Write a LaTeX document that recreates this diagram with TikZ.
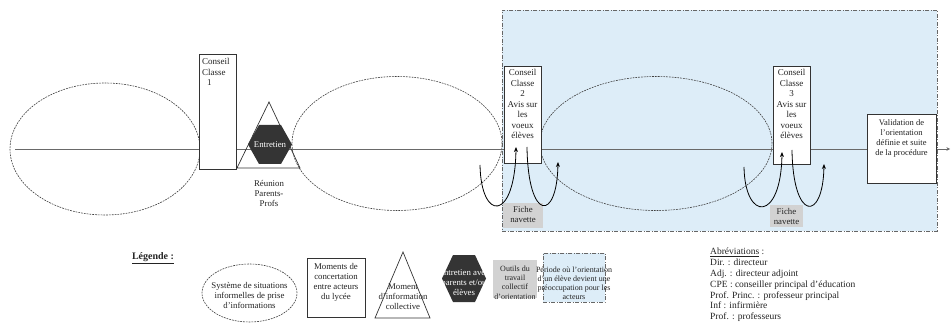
\documentclass[tikz,border=0pt]{standalone}
\usepackage{fontspec}
\setmainfont{Liberation Serif}
\usetikzlibrary{arrows.meta,shapes.geometric}
\definecolor{zoneblue}{RGB}{221,237,248}
\definecolor{darkhex}{RGB}{52,52,52}
\definecolor{fichegray}{RGB}{210,210,210}
\definecolor{linegray}{RGB}{105,105,105}
\definecolor{inkc}{RGB}{35,35,35}
\tikzset{
  txt/.style={font=\fontsize{8.8}{10}\selectfont, text=inkc, align=center, inner sep=0pt},
  boxtxt/.style={font=\fontsize{9}{10.5}\selectfont, text=inkc, align=center, inner sep=0pt},
  cbox/.style={draw=black!80, line width=0.8pt, fill=white, inner sep=0pt},
  ell/.style={draw=black!75, dash pattern=on 1.8pt off 1pt, line width=0.6pt},
  zone/.style={fill=zoneblue, draw=black!60, dash pattern=on 4pt off 1.5pt on 1pt off 1.5pt, line width=0.6pt, inner sep=0pt},
  fiche/.style={fill=fichegray, inner sep=0pt},
  uarrow/.style={draw=black, line width=0.8pt, -{Stealth[length=5pt,width=4pt]}},
  hexa/.style={fill=darkhex, draw=darkhex},
  tri/.style={draw=black!80, line width=0.7pt},
  timeline/.style={draw=linegray, line width=0.9pt, -{Stealth[length=3.5pt,width=3.5pt]}},
}
\begin{document}
\begin{tikzpicture}[x=1pt,y=-1pt]
\useasboundingbox (0,0) rectangle (951,326);

% blue zone
\node[zone, minimum width=435pt, minimum height=221pt] (zone) at (719.5,120.5) {};

% informal ellipses
\draw[ell] (105,149) ellipse [x radius=95pt, y radius=66pt];
\draw[ell] (397,143.5) ellipse [x radius=105pt, y radius=67pt];
\draw[ell] (656,143.5) ellipse [x radius=116pt, y radius=67pt];

% timeline
\coordinate (tstart) at (15,149);
\coordinate (tend) at (950,149);
\draw[timeline] (tstart) -- (tend);

% Conseil 1
\node[cbox, minimum width=37pt, minimum height=115pt] (c1) at (217.5,111.5) {};
\node[boxtxt, align=left, anchor=north west] (c1t) at (202,58.5) {Conseil\\Classe\\\hspace*{5pt}1};

% triangle + hexagon
\coordinate (t1a) at (237,168);
\coordinate (t1b) at (269,102);
\coordinate (t1c) at (300,168);
\draw[tri] (t1a) -- (t1b) -- (t1c) -- cycle;
\fill[darkhex] (248,144.5) -- (259,125) -- (281,125) -- (292,144.5) -- (281,164) -- (259,164) -- cycle;
\node[txt, text=white] (ent) at (270,145) {Entretien};
\node[txt] (reu) at (269,193) {Réunion\\Parents-\\Profs};

% Conseil 2
\node[cbox, minimum width=37pt, minimum height=97pt] (c2) at (522.5,114.5) {};
\node[boxtxt, anchor=north] (c2t) at (522.5,69.5) {Conseil\\Classe\\2\\Avis sur\\les\\voeux\\élèves};

% Conseil 3
\node[cbox, minimum width=37pt, minimum height=98pt] (c3) at (791.5,115) {};
\node[boxtxt, anchor=north] (c3t) at (791.5,69.5) {Conseil\\Classe\\3\\Avis sur\\les\\voeux\\élèves};

% Validation
\node[cbox, minimum width=69pt, minimum height=69pt] (val) at (901.5,148.5) {};
\node[txt, font=\fontsize{8.5}{10}\selectfont, anchor=north] (valt) at (901.5,119) {Validation de\\l’orientation\\définie et suite\\de la procédure};

% fiches navette
\node[fiche, minimum width=40pt, minimum height=25pt] (f2) at (523,215.5) {};
\node[txt] (f2t) at (523,214) {Fiche\\navette};
\node[fiche, minimum width=33pt, minimum height=22pt] (f3) at (786.5,216) {};
\node[txt] (f3t) at (786.5,216) {Fiche\\navette};

% U arrows
\coordinate (u1a) at (480,165);  \coordinate (u1b) at (516,147);
\coordinate (u2a) at (527,147);  \coordinate (u2b) at (558,162);
\coordinate (u3a) at (744,167);  \coordinate (u3b) at (782,152);
\coordinate (u4a) at (792,150);  \coordinate (u4b) at (824,164);
\draw[uarrow] (u1a) .. controls (481,222) and (515,222) .. (u1b);
\draw[uarrow] (u2a) .. controls (528,222) and (557,222) .. (u2b);
\draw[uarrow] (u3a) .. controls (745,222) and (781,222) .. (u3b);
\draw[uarrow] (u4a) .. controls (793,222) and (823,222) .. (u4b);

% legend
\node[font=\fontsize{10}{12}\selectfont\bfseries, text=inkc, inner sep=0pt] (leg) at (153,258) {\underline{Légende :}};

\node[ell, ellipse, minimum width=95pt, minimum height=58pt, inner sep=0pt] (le) at (249.5,293) {};
\node[txt] (let) at (249.5,295) {Système de situations\\informelles de prise\\d’informations};

\node[cbox, minimum width=58pt, minimum height=59pt] (lb) at (336,287.5) {};
\node[txt, anchor=north] (lbt) at (336,263.5) {Moments de\\concertation\\entre acteurs\\du lycée};

\coordinate (lta) at (375,318);
\coordinate (ltb) at (403,252);
\coordinate (ltc) at (430,318);
\draw[tri] (lta) -- (ltb) -- (ltc) -- cycle;
\node[txt] (ltt) at (403,297) {Moment\\d’information\\collective};

\fill[darkhex] (442,278.5) -- (453,255) -- (475,255) -- (486,278.5) -- (475,302) -- (453,302) -- cycle;
\node[txt, text=white] (lht) at (464,283) {Entretien avec\\parents et/ou\\élèves};

\node[fiche, minimum width=44pt, minimum height=38pt] (lg) at (515,279) {};
\node[txt, font=\fontsize{8}{9.2}\selectfont] (lgt) at (515,282.5) {Outils du\\travail\\collectif\\d’orientation};

\node[zone, minimum width=62pt, minimum height=49pt] (lz) at (574,277.5) {};
\node[txt, font=\fontsize{8}{9}\selectfont] (lzt) at (574,283) {Période où l’orientation\\d’un élève devient une\\préoccupation pour les\\acteurs};

\node[font=\fontsize{9.5}{10.8}\selectfont, text=inkc, align=left, anchor=north west, inner sep=0pt] (abr) at (710,248) {\underline{Abréviations} :\\Dir. : directeur\\Adj. : directeur adjoint\\CPE : conseiller principal d’éducation\\Prof. Princ. : professeur principal\\Inf : infirmière\\Prof. : professeurs};
\end{tikzpicture}
\end{document}
